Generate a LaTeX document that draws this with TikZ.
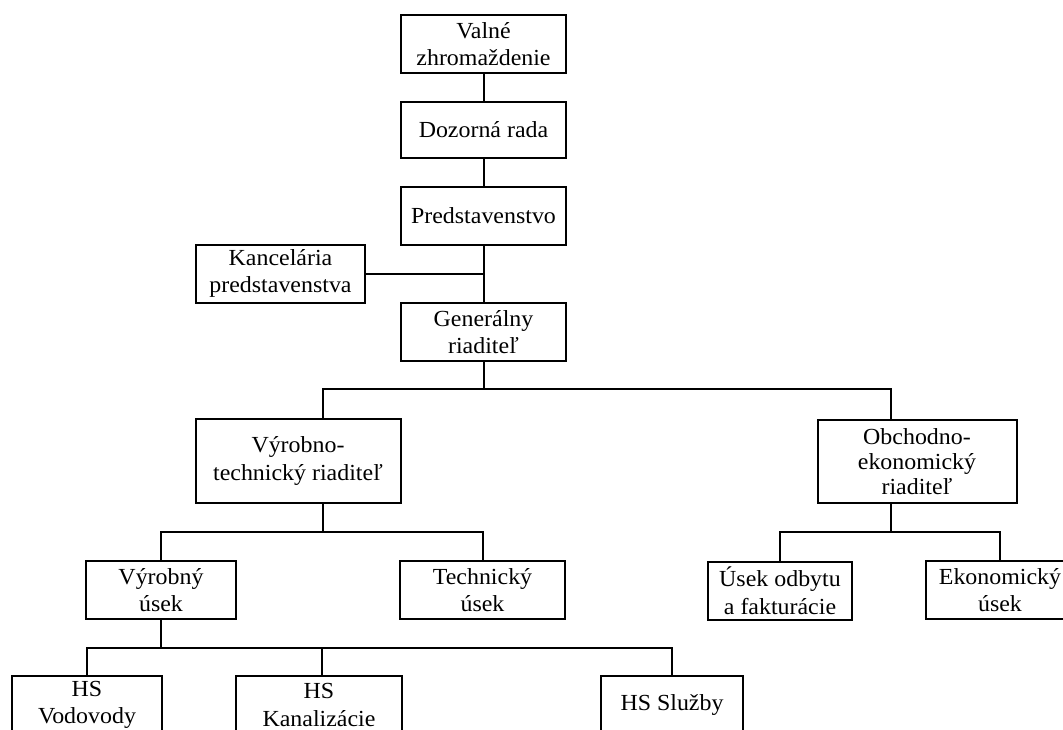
\documentclass[tikz,border=0pt]{standalone}
\usepackage{fontspec}
\setmainfont{Liberation Serif}[FakeStretch=1.04]
\begin{document}
\begin{tikzpicture}[x=1pt,y=-1pt,
  box/.style={draw, line width=2pt, inner sep=0pt, align=center,
    font=\fontsize{23}{27.5}\selectfont, minimum height=58pt},
  conn/.style={line width=2pt}]
\useasboundingbox (0,0) rectangle (1063,729);
\clip (0,0) rectangle (1063,729);
\fill[white] (0,0) rectangle (1063,729);
% nodes
\node[box, minimum width=165pt] (valne) at (483.5,44) {Valné\\zhromaždenie};
\node[box, minimum width=165pt, minimum height=56pt] (dozor) at (483.5,129.5) {Dozorná rada};
\node[box, minimum width=165pt] (pred) at (483.5,215.5) {Predstavenstvo};
\node[box, minimum width=169pt] (kanc) at (280.5,273.5) {Kancelária\\predstavenstva};
\node[box, minimum width=165pt] (gen) at (483.5,332) {Generálny\\riaditeľ};
\node[box, minimum width=205pt, minimum height=84pt] (vt) at (298,461) {Výrobno-\\technický riaditeľ};
\node[box, minimum width=199pt, minimum height=83pt, font=\fontsize{23}{25}\selectfont] (ob) at (917,461.5) {Obchodno-\\ekonomický\\riaditeľ};
\node[box, minimum width=150pt] (vu) at (161,590) {Výrobný\\úsek};
\node[box, minimum width=165pt] (tu) at (482.5,590) {Technický\\úsek};
\node[box, minimum width=144pt] (uo) at (780,590.5) {Úsek odbytu\\a fakturácie};
\node[box, minimum width=148pt] (ek) at (1000,590) {Ekonomický\\úsek};
\node[box, minimum width=150pt] (hv) at (87,705) {HS\\Vodovody};
\node[box, minimum width=166pt] (hk) at (319,705) {HS\\Kanalizácie};
\node[box, minimum width=142pt] (hsl) at (672,705) {HS Služby};
% junction coordinates
\coordinate (kj) at (483.5,274);
\coordinate (gj) at (483.5,389);
\coordinate (gl) at (323,389);
\coordinate (gr) at (890.5,389);
\coordinate (vtb) at (322.5,532);
\coordinate (obb) at (890.5,532);
\coordinate (vub) at (161,648);
\coordinate (hkj) at (322,648);
% connectors
\draw[conn] (valne.south) -- (dozor.north);
\draw[conn] (dozor.south) -- (pred.north);
\draw[conn] (pred.south) -- (gen.north);
\draw[conn] (kanc.east |- kj) -- (kj);
\draw[conn] (gen.south) -- (gj);
\draw[conn] (gl |- vt.north) -- (gl) -- (gr) -- (gr |- ob.north);
\draw[conn] (vtb |- vt.south) -- (vtb);
\draw[conn] (vu.north) -- (vu.north |- vtb) -- (tu.north |- vtb) -- (tu.north);
\draw[conn] (obb |- ob.south) -- (obb);
\draw[conn] (uo.north) -- (uo.north |- obb) -- (ek.north |- obb) -- (ek.north);
\draw[conn] (vu.south) -- (vub);
\draw[conn] (hv.north) -- (hv.north |- vub) -- (hsl.north |- vub) -- (hsl.north);
\draw[conn] (hkj) -- (hkj |- hk.north);
\end{tikzpicture}
\end{document}
